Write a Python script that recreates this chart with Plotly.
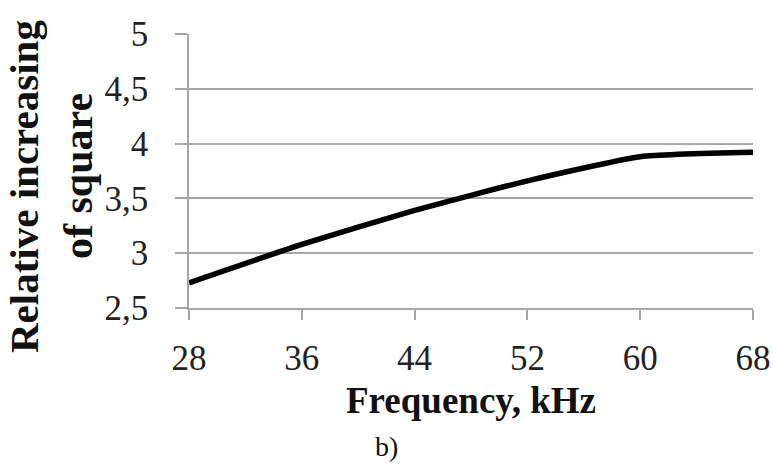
import plotly.graph_objects as go

frequency_khz = [28, 36, 44, 52, 60, 68]
relative_increase = [2.73, 3.08, 3.39, 3.66, 3.88, 3.92]
x_ticks = [28, 36, 44, 52, 60, 68]
y_ticks = [2.5, 3, 3.5, 4, 4.5, 5]
y_tick_labels = ["2,5", "3", "3,5", "4", "4,5", "5"]

W, H = 773, 474
L, R, T, B = 189, 20, 34, 166

SERIF = "Liberation Serif"
GRID = "#a6a6a6"

fig = go.Figure()
fig.add_trace(go.Scatter(
    x=frequency_khz, y=relative_increase, mode="lines",
    line=dict(color="black", width=5.5, shape="spline", smoothing=0.5),
    showlegend=False, hoverinfo="skip",
))

def px_to_paper_x(px):
    return (px - L) / (W - L - R)

def px_to_paper_y(py):
    return (H - B - py) / (H - B - T)

fig.update_layout(
    width=W, height=H,
    margin=dict(l=L, r=R, t=T, b=B, pad=0, autoexpand=False),
    paper_bgcolor="white", plot_bgcolor="white",
    font=dict(family=SERIF, color="#1a1a1a"),
    xaxis=dict(
        range=[28, 68], tickvals=x_ticks, ticktext=[str(v) for v in x_ticks],
        showgrid=False, zeroline=False, automargin=False,
        showline=True, linecolor=GRID, linewidth=1.5,
        ticks="outside", ticklen=10, tickcolor=GRID, tickwidth=1.5,
        tickfont=dict(size=35, family=SERIF, color="#222"),
        ticklabelstandoff=8,
        title=dict(text="<b>Frequency, kHz</b>", font=dict(size=37, family=SERIF, color="#111"), standoff=10),
    ),
    yaxis=dict(
        range=[2.5, 5], tickvals=y_ticks, ticktext=y_tick_labels,
        showgrid=True, gridcolor=GRID, gridwidth=1.5, zeroline=False, automargin=False,
        showline=True, linecolor=GRID, linewidth=1.5,
        ticks="outside", ticklen=12, tickcolor=GRID, tickwidth=1.5,
        tickfont=dict(size=35, family=SERIF, color="#222"),
        ticklabelstandoff=20,
    ),
    annotations=[
        dict(text="<b>Relative increasing</b>", textangle=-90, showarrow=False,
             xref="paper", yref="paper", x=px_to_paper_x(24), y=px_to_paper_y(187),
             xanchor="center", yanchor="middle",
             font=dict(size=41, family=SERIF, color="#111")),
        dict(text="<b>of square</b>", textangle=-90, showarrow=False,
             xref="paper", yref="paper", x=px_to_paper_x(78), y=px_to_paper_y(176),
             xanchor="center", yanchor="middle",
             font=dict(size=42, family=SERIF, color="#111")),
        dict(text="b)", showarrow=False,
             xref="paper", yref="paper", x=px_to_paper_x(386), y=px_to_paper_y(446),
             xanchor="center", yanchor="middle",
             font=dict(size=28, family=SERIF, color="#111")),
    ],
)

fig.write_html("out.html")
